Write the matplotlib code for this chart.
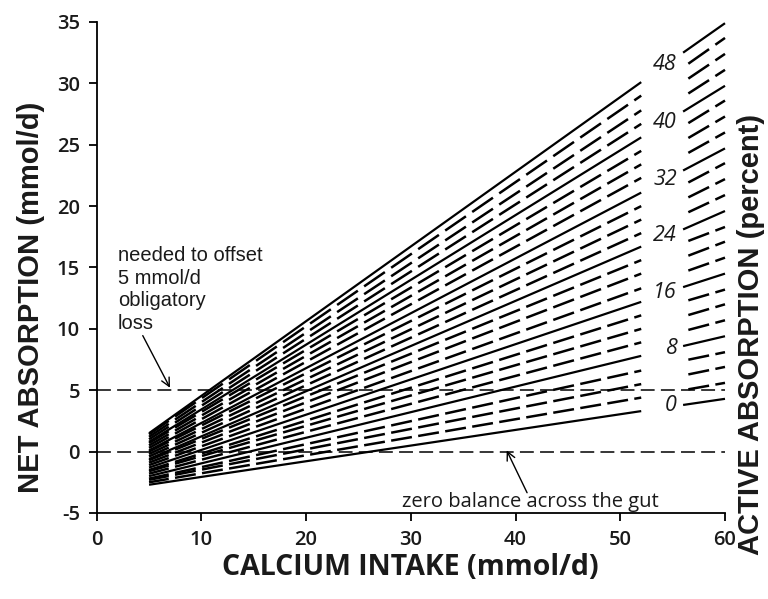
import matplotlib
matplotlib.use("Agg")
import matplotlib.pyplot as plt
import numpy as np

plt.rcParams['lines.scale_dashes'] = False
plt.rcParams['axes.unicode_minus'] = False

# active absorption (percent), one line per value; solid every 8 %
pct = list(range(0, 50, 2))
# net absorption at the segment ends
x_left = (5, 52)
x_right = (56, 60)
y_at5 = [-2.7, -2.5, -2.3, -2.2, -2.0, -1.8, -1.6, -1.5, -1.3, -1.1, -0.9, -0.7, -0.6,
         -0.4, -0.2, 0.0, 0.1, 0.3, 0.5, 0.7, 0.8, 1.0, 1.2, 1.4, 1.5]
y_at52 = [3.3, 4.4, 5.5, 6.6, 7.8, 8.9, 10.0, 11.1, 12.2, 13.3, 14.5, 15.6, 16.7,
          17.8, 18.9, 20.0, 21.1, 22.3, 23.4, 24.5, 25.6, 26.7, 27.8, 29.0, 30.1]
y_at56 = [3.8, 5.0, 6.2, 7.4, 8.6, 9.8, 11.0, 12.2, 13.4, 14.6, 15.8, 17.0, 18.1,
          19.3, 20.5, 21.7, 22.9, 24.1, 25.3, 26.5, 27.7, 28.9, 30.1, 31.3, 32.5]
y_at60 = [4.3, 5.6, 6.9, 8.1, 9.4, 10.7, 12.0, 13.2, 14.5, 15.8, 17.1, 18.3, 19.6,
          20.9, 22.2, 23.5, 24.7, 26.0, 27.3, 28.6, 29.8, 31.1, 32.4, 33.7, 34.9]
ref_lines = [0, 5]  # zero balance, 5 mmol/d obligatory loss

xticks = [0, 10, 20, 30, 40, 50, 60]
yticks = [-5, 0, 5, 10, 15, 20, 25, 30, 35]

fig = plt.figure(figsize=(7.68, 5.99), dpi=100)
ax = fig.add_axes([0.1259, 0.1436, 0.8181, 0.8197])
ax.set_xlim(0, 60)
ax.set_ylim(-5, 35)

# dash pattern kept in x units so the gaps line up vertically
DASH_ON, DASH_OFF, DASH_START = 1.98, 0.6, 4.9
PERIOD = DASH_ON + DASH_OFF


def draw_seg(x0, x1, y0, y1, solid):
    if solid:
        ax.plot([x0, x1], [y0, y1], color='black', lw=1.6,
                solid_capstyle='butt', clip_on=False)
        return
    p0 = ax.transData.transform((x0, y0))
    p1 = ax.transData.transform((x1, y1))
    k = np.hypot(*(p1 - p0)) / (x1 - x0) * 72 / fig.dpi
    off = ((x0 - DASH_START) % PERIOD) * k
    ax.plot([x0, x1], [y0, y1], color='black', lw=1.8, dash_capstyle='butt',
            linestyle=(off, (DASH_ON * k, DASH_OFF * k)), clip_on=False)


for i, p in enumerate(pct):
    solid = p % 8 == 0
    draw_seg(x_left[0], x_left[1], y_at5[i], y_at52[i], solid)
    draw_seg(x_right[0], x_right[1], y_at56[i], y_at60[i], solid)
    if solid:
        ax.text(55.4, (y_at52[i] + y_at56[i]) / 2 + 0.2, str(p), ha='right', va='center',
                fontsize=15.5, fontstyle='italic', family='Open Sans', color='#1a1a1a')

for yv in ref_lines:
    ax.plot([0, 60], [yv, yv], color='black', lw=1.1, linestyle=(0, (10, 4.5)))

ax.annotate('', xy=(7.0, 5.2), xytext=(4.4, 9.45),
            arrowprops=dict(arrowstyle='->', lw=1.0, color='black',
                            mutation_scale=15, shrinkA=0, shrinkB=0))
ax.text(2.0, 13.2, 'needed to offset\n5 mmol/d\nobligatory\nloss', ha='left', va='center',
        fontsize=14.5, family='Liberation Sans', linespacing=1.25, color='#1a1a1a')

ax.annotate('', xy=(39.15, 0.1), xytext=(41.1, -3.35),
            arrowprops=dict(arrowstyle='->', lw=1.0, color='black',
                            mutation_scale=15, shrinkA=0, shrinkB=0))
ax.text(41.4, -4.1, 'zero balance across the gut', ha='center', va='center',
        fontsize=14.5, family='Open Sans', color='#1a1a1a')

for s in ('top', 'right'):
    ax.spines[s].set_visible(False)
for s in ('left', 'bottom'):
    ax.spines[s].set_linewidth(1.3)
ax.set_xticks(xticks)
ax.set_yticks(yticks)
ax.tick_params(direction='out', length=6, width=1.3, pad=6, labelsize=14.5, colors='black')
for lab in ax.get_xticklabels() + ax.get_yticklabels():
    lab.set_family('Open Sans')
    lab.set_fontweight('semibold')
    lab.set_color('#1a1a1a')

fig.text(0.534, 0.052, 'CALCIUM INTAKE (mmol/d)', ha='center', va='center',
         fontsize=20.5, fontweight='bold', family='Open Sans', color='#1a1a1a')
fig.text(0.040, 0.504, 'NET ABSORPTION (mmol/d)', ha='center', va='center', rotation=90,
         fontsize=21, fontweight='bold', family='Liberation Sans', color='#1a1a1a')
fig.text(0.978, 0.442, 'ACTIVE ABSORPTION (percent)', ha='center', va='center', rotation=90,
         fontsize=21, fontweight='bold', family='Liberation Sans', color='#1a1a1a')

fig.savefig('out.png', dpi=100)
